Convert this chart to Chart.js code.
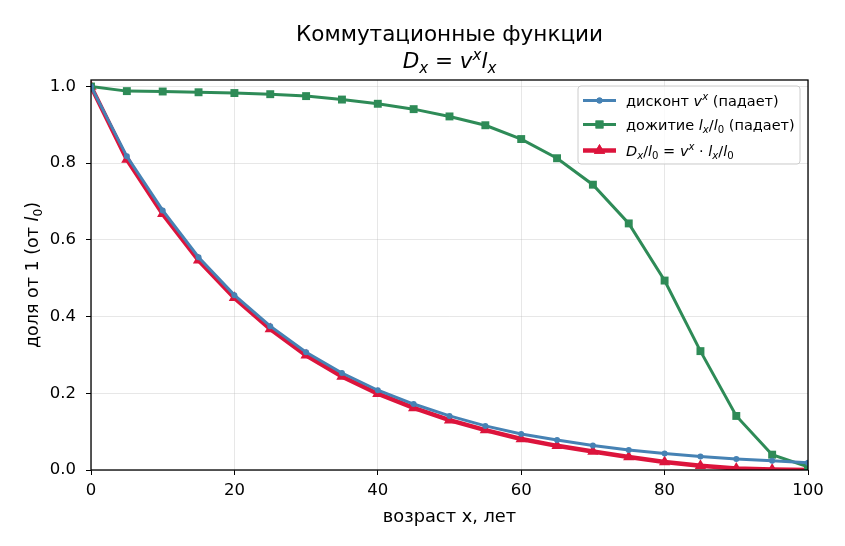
<!DOCTYPE html>
<html>
<head>
<meta charset="utf-8">
<script src="https://cdn.jsdelivr.net/npm/chart.js@4.4.0/dist/chart.umd.min.js"></script>
<style>
  html, body { margin: 0; padding: 0; background: #fff; }
  #wrap { width: 845px; height: 546px; }
</style>
</head>
<body>
<div id="wrap"><canvas id="chart" width="845" height="546"></canvas></div>
<script>
// Ages (x axis) and values
const ages = [0, 5, 10, 15, 20, 25, 30, 35, 40, 45, 50, 55, 60, 65, 70, 75, 80, 85, 90, 95, 100];
const discount = [1.0, 0.818, 0.677, 0.555, 0.456, 0.375, 0.307, 0.253, 0.208, 0.172, 0.141, 0.115, 0.094, 0.078, 0.064, 0.052, 0.043, 0.035, 0.029, 0.024, 0.019];
const survival = [1.0, 0.988, 0.987, 0.985, 0.983, 0.980, 0.975, 0.966, 0.955, 0.941, 0.922, 0.899, 0.863, 0.813, 0.744, 0.643, 0.494, 0.310, 0.141, 0.040, 0.008];
const dxl0 = [1.0, 0.810, 0.668, 0.547, 0.449, 0.368, 0.299, 0.244, 0.199, 0.162, 0.130, 0.104, 0.081, 0.063, 0.048, 0.034, 0.021, 0.011, 0.004, 0.001, 0.0];
const xTicks = [0, 20, 40, 60, 80, 100];
const yTicks = [0, 0.2, 0.4, 0.6, 0.8, 1.0];

const FONT = '"DejaVu Sans", sans-serif';
const BLUE = '#4682b4', GREEN = '#2e8b57', RED = '#dc143c';

// text with italic / sub / sup pieces, like matplotlib mathtext
function richWidth(ctx, segs, size) {
    let w = 0;
    segs.forEach(s => {
        const sz = (s.sub || s.sup) ? size * 0.7 : size;
        ctx.font = (s.it ? 'italic ' : '') + sz + 'px ' + FONT;
        w += ctx.measureText(s.t).width;
    });
    return w;
}
function drawRich(ctx, segs, x, y, size, align) {
    let cx = x;
    if (align === 'center') cx = x - richWidth(ctx, segs, size) / 2;
    ctx.textBaseline = 'alphabetic';
    ctx.textAlign = 'left';
    ctx.fillStyle = '#000';
    segs.forEach(s => {
        const sz = (s.sub || s.sup) ? size * 0.7 : size;
        ctx.font = (s.it ? 'italic ' : '') + sz + 'px ' + FONT;
        let dy = 0;
        if (s.sub) dy = size * 0.22;
        if (s.sup) dy = -size * 0.38;
        ctx.fillText(s.t, cx, y + dy);
        cx += ctx.measureText(s.t).width;
    });
}

const title2 = [{t: 'D', it: 1}, {t: 'x', it: 1, sub: 1}, {t: ' = '}, {t: 'v', it: 1}, {t: 'x', it: 1, sup: 1}, {t: 'l', it: 1}, {t: 'x', it: 1, sub: 1}];
const yLabel = [{t: 'доля от 1 (от '}, {t: 'l', it: 1}, {t: '0', sub: 1}, {t: ')'}];
const legendRows = [
    {color: BLUE, width: 3, style: 'circle', r: 3, segs: [{t: 'дисконт '}, {t: 'v', it: 1}, {t: 'x', it: 1, sup: 1}, {t: ' (падает)'}]},
    {color: GREEN, width: 3, style: 'rect', r: 5.6, segs: [{t: 'дожитие '}, {t: 'l', it: 1}, {t: 'x', it: 1, sub: 1}, {t: '/'}, {t: 'l', it: 1}, {t: '0', sub: 1}, {t: ' (падает)'}]},
    {color: RED, width: 4.5, style: 'triangle', r: 6.5, segs: [{t: 'D', it: 1}, {t: 'x', it: 1, sub: 1}, {t: '/'}, {t: 'l', it: 1}, {t: '0', sub: 1}, {t: ' = '}, {t: 'v', it: 1}, {t: 'x', it: 1, sup: 1}, {t: ' · '}, {t: 'l', it: 1}, {t: 'x', it: 1, sub: 1}, {t: '/'}, {t: 'l', it: 1}, {t: '0', sub: 1}]}
];

const decorations = {
    id: 'decorations',
    afterDatasetsDraw(chart) {
        const ctx = chart.ctx;
        const a = chart.chartArea;
        ctx.save();
        // frame
        ctx.strokeStyle = '#000';
        ctx.lineWidth = 1.3;
        ctx.strokeRect(a.left, a.top, a.right - a.left, a.bottom - a.top);

        // title
        const cx = (a.left + a.right) / 2;
        ctx.font = '21.5px ' + FONT;
        ctx.fillStyle = '#000';
        ctx.textAlign = 'center';
        ctx.textBaseline = 'alphabetic';
        ctx.fillText('Коммутационные функции', cx, 41);
        drawRich(ctx, title2, cx, 68, 21.5, 'center');

        // x axis title
        ctx.font = '17.8px ' + FONT;
        ctx.textAlign = 'center';
        ctx.fillText('возраст x, лет', cx, 522);

        // y axis title
        ctx.save();
        ctx.translate(38, (a.top + a.bottom) / 2);
        ctx.rotate(-Math.PI / 2);
        drawRich(ctx, yLabel, 0, 0, 17.5, 'center');
        ctx.restore();

        // legend
        const lx = 578, ly = 86, lw = 222, lh = 78;
        ctx.fillStyle = 'rgba(255,255,255,0.8)';
        ctx.strokeStyle = '#cccccc';
        ctx.lineWidth = 1;
        ctx.beginPath();
        ctx.roundRect(lx, ly, lw, lh, 3);
        ctx.fill();
        ctx.stroke();
        const rowsY = [100.5, 124.5, 150.5];
        legendRows.forEach((row, i) => {
            const y = rowsY[i];
            ctx.strokeStyle = row.color;
            ctx.lineWidth = row.width;
            ctx.beginPath();
            ctx.moveTo(583, y);
            ctx.lineTo(616, y);
            ctx.stroke();
            ctx.fillStyle = row.color;
            Chart.helpers.drawPoint(ctx, {pointStyle: row.style, radius: row.r, borderWidth: 0, rotation: 0}, 599.5, y);
            ctx.fill();
            drawRich(ctx, row.segs, 626, y + 5, 14.5, 'left');
        });
        ctx.restore();
    }
};

function series(label, values, color, width, style, r) {
    return {
        label: label,
        data: ages.map((x, i) => ({x: x, y: values[i]})),
        borderColor: color,
        backgroundColor: color,
        borderWidth: width,
        pointStyle: style,
        pointRadius: r,
        pointHoverRadius: r,
        pointBorderWidth: 0,
        pointBackgroundColor: color,
        tension: 0,
        clip: 0
    };
}

new Chart(document.getElementById('chart'), {
    type: 'line',
    data: {
        datasets: [
            series('дисконт', discount, BLUE, 3, 'circle', 3),
            series('дожитие', survival, GREEN, 3, 'rect', 5.6),
            series('Dx/l0', dxl0, RED, 4.5, 'triangle', 6.5)
        ]
    },
    options: {
        responsive: false,
        animation: false,
        layout: { padding: { top: 80, right: 37, left: 0, bottom: 0 } },
        plugins: {
            legend: { display: false },
            title: { display: false },
            tooltip: { enabled: false }
        },
        scales: {
            x: {
                type: 'linear',
                min: 0,
                max: 100,
                afterFit: s => { s.height = 76; },
                afterBuildTicks: s => { s.ticks = xTicks.map(v => ({value: v})); },
                ticks: { color: '#000', font: { family: FONT, size: 16.5 }, padding: 6, maxRotation: 0 },
                grid: { color: 'rgba(176,176,176,0.3)', lineWidth: 1, tickColor: '#000', tickLength: 5 },
                border: { display: false }
            },
            y: {
                min: 0,
                max: 1.017,
                afterFit: s => { s.width = 91; },
                afterBuildTicks: s => { s.ticks = yTicks.map(v => ({value: v})); },
                ticks: { color: '#000', font: { family: FONT, size: 16.5 }, padding: 10, callback: v => v.toFixed(1) },
                grid: { color: 'rgba(176,176,176,0.3)', lineWidth: 1, tickColor: '#000', tickLength: 5 },
                border: { display: false }
            }
        }
    },
    plugins: [decorations]
});
</script>
</body>
</html>
